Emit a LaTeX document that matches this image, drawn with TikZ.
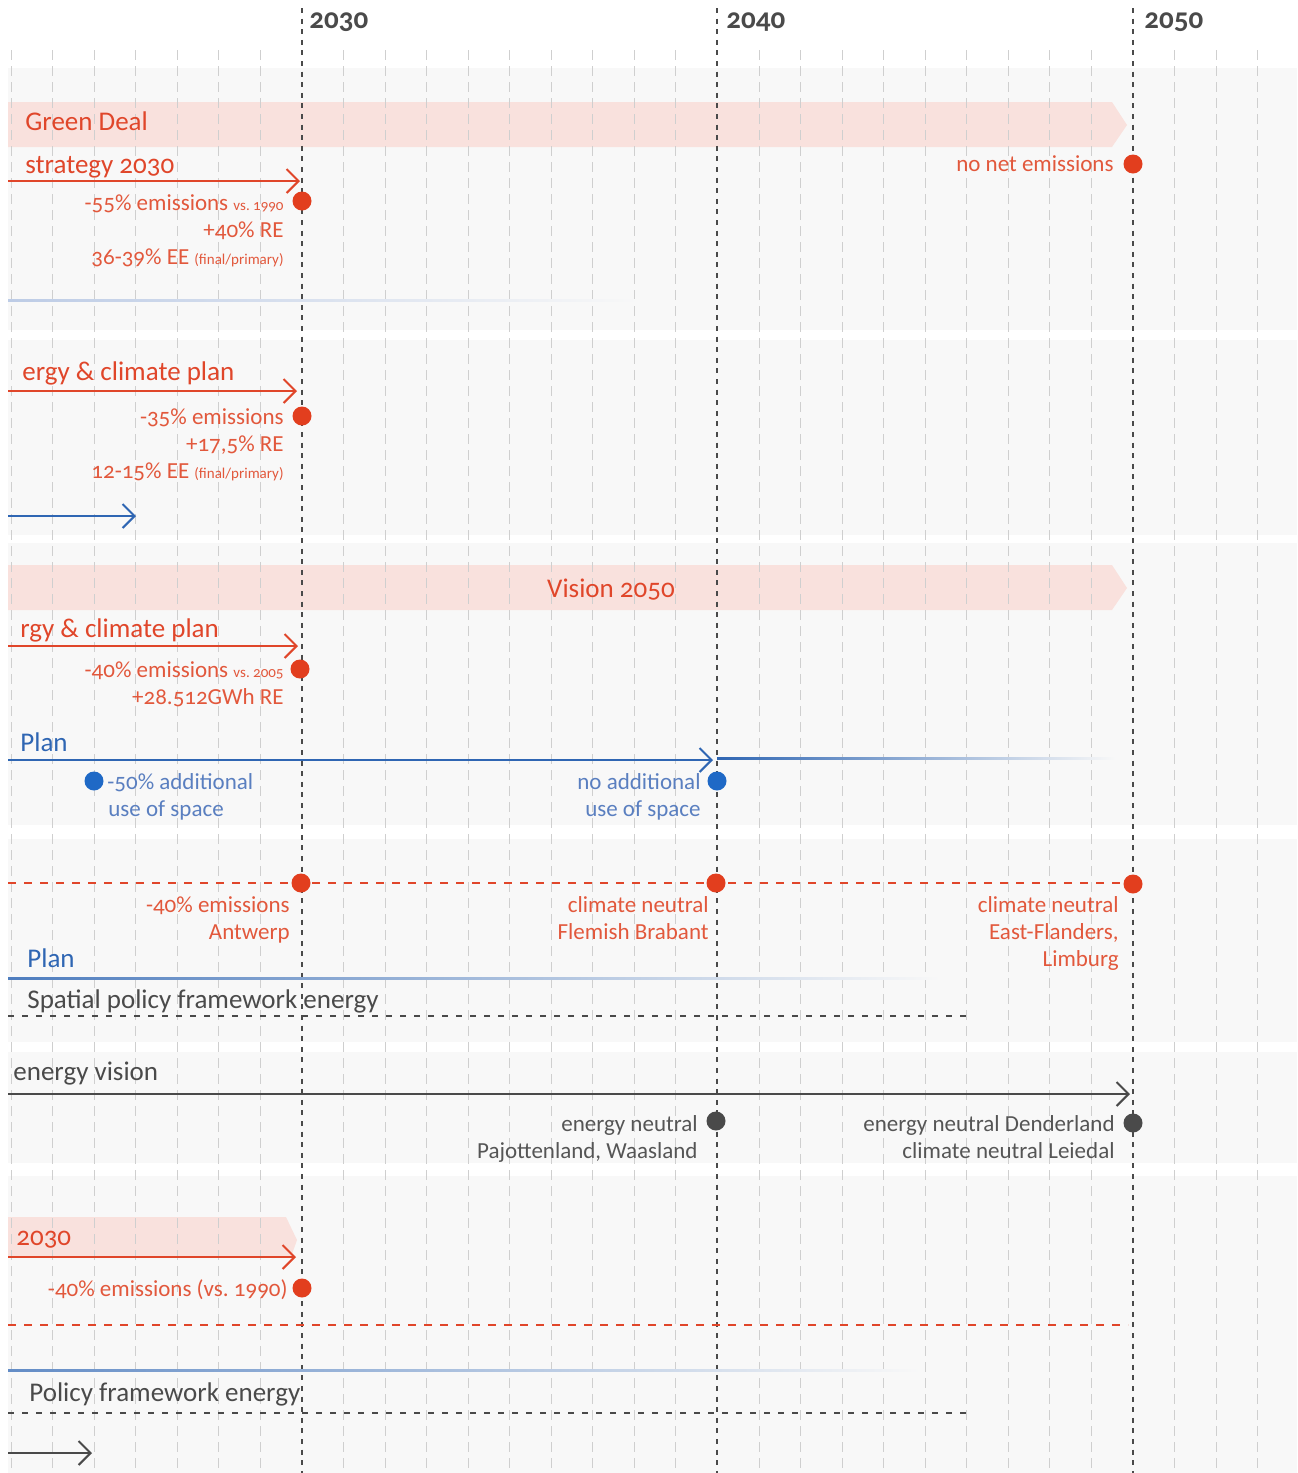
\documentclass[tikz,border=0pt]{standalone}
\usepackage{fontspec}
\setmainfont{Carlito}[Numbers=OldStyle]
\usetikzlibrary{arrows.meta}
\definecolor{cred}{HTML}{E0462A}
\definecolor{clred}{HTML}{E2583C}
\definecolor{cdot}{HTML}{E23E1E}
\definecolor{cblue}{HTML}{2F66B3}
\definecolor{cbdot}{HTML}{1F69C6}
\definecolor{cbtxt}{HTML}{5A7FC0}
\definecolor{cdark}{HTML}{4A4A4A}
\definecolor{cdtxt}{HTML}{555555}
\definecolor{cpink}{HTML}{F9E1DD}
\definecolor{cband}{HTML}{F8F8F8}
\definecolor{cminor}{HTML}{CFCFCF}
\tikzset{
  ttl/.style={font=\fontsize{13.5}{16}\selectfont, inner sep=0},
  lbl/.style={font=\fontsize{11.5}{13.5}\selectfont, inner sep=0},
  yr/.style={font=\fontsize{14.5}{16}\selectfont\bfseries, text=cdark, inner sep=0, anchor=base west},
  rdot/.style={circle, fill=cdot, inner sep=0, minimum size=9.5pt},
  bdot/.style={circle, fill=cbdot, inner sep=0, minimum size=9.5pt},
  ddot/.style={circle, fill=cdark, inner sep=0, minimum size=9.5pt},
  chev/.style={-{Straight Barb[length=6pt,width=12pt]}},
  redarrow/.style={chev, draw=cred, line width=1pt},
  bluearrow/.style={chev, draw=cblue, line width=1pt},
  darkarrow/.style={chev, draw=cdark, line width=1pt},
  minorline/.style={draw=cminor, line width=0.5pt, dash pattern=on 5pt off 3pt},
  majorline/.style={draw=cdark, line width=1.2pt, dash pattern=on 2.5pt off 2.8pt},
  reddash/.style={draw=cred, line width=1.2pt, dash pattern=on 4pt off 4pt},
  darkdash/.style={draw=cdark, line width=1pt, dash pattern=on 3pt off 4pt},
}
\begin{document}
\begin{tikzpicture}[x=0.5pt,y=-0.5pt]
\useasboundingbox (0,0) rectangle (1297,1473);
\fill[white] (0,0) rectangle (1297,1473);
% light grey bands
\foreach \a/\b in {68/330,340/535,543/825,839/1042,1052/1163,1176/1473}
  \fill[cband] (8,\a) rectangle (1297,\b);
% pink bands
\fill[cpink] (8,102) -- (1112,102) -- (1127,125) -- (1112,147) -- (8,147) -- cycle;
\fill[cpink] (8,565) -- (1112,565) -- (1127,588) -- (1112,610) -- (8,610) -- cycle;
\fill[cpink] (8,1217) -- (286,1217) -- (297,1240) -- (291,1257) -- (8,1257) -- cycle;
% minor year lines
\foreach \k in {-7,...,-1,1,2,...,9,11,12,...,19,21,22,23}
  \draw[minorline] ({302+41.55*\k},50) -- ({302+41.55*\k},1473);
% major year lines
\foreach \xx in {302,717,1133}
  \draw[majorline] (\xx,8) -- (\xx,1473);
\node[yr] (y30) at (309,28) {2030};
\node[yr] (y40) at (726,28) {2040};
\node[yr] (y50) at (1144,28) {2050};

% Green Deal
\node[ttl, text=cred, anchor=base west] (gd) at (25,130) {Green Deal};
\node[ttl, text=cred, anchor=base west] (st) at (25,173) {strategy 2030};
\coordinate (a1s) at (8,181); \coordinate (a1e) at (300,181);
\draw[redarrow] (a1s) -- (a1e);
\node[rdot] (d1) at (302,201) {};
\node[lbl, text=clred, anchor=base east] (t11) at (284,210) {-55\% emissions {\fontsize{7.5}{9}\selectfont vs.\ 1990}};
\node[lbl, text=clred, anchor=base east] (t12) at (284,237) {+40\% RE};
\node[lbl, text=clred, anchor=base east] (t13) at (284,264) {36-39\% EE {\fontsize{7.5}{9}\selectfont (final/primary)}};
\node[rdot] (d2) at (1133,164) {};
\node[lbl, text=clred, anchor=base east] (t14) at (1114,171) {no net emissions};
\shade[left color=cbtxt!40!white, right color=cband] (8,299) rectangle (640,301);

% energy & climate plan 1
\node[ttl, text=cred, anchor=base west] (ecp1) at (22,380) {ergy \& climate plan};
\coordinate (a2s) at (8,391); \coordinate (a2e) at (297,391);
\draw[redarrow] (a2s) -- (a2e);
\node[rdot] (d3) at (302,416) {};
\node[lbl, text=clred, anchor=base east] (t21) at (284,424) {-35\% emissions};
\node[lbl, text=clred, anchor=base east] (t22) at (284,451) {+17,5\% RE};
\node[lbl, text=clred, anchor=base east] (t23) at (284,478) {12-15\% EE {\fontsize{7.5}{9}\selectfont (final/primary)}};
\coordinate (a3s) at (8,516); \coordinate (a3e) at (136,516);
\draw[bluearrow] (a3s) -- (a3e);

% Vision 2050
\node[ttl, text=cred, anchor=base] (vis) at (611,597) {Vision 2050};
\node[ttl, text=cred, anchor=base west] (ecp2) at (20,637) {rgy \& climate plan};
\coordinate (a4s) at (8,646); \coordinate (a4e) at (298,646);
\draw[redarrow] (a4s) -- (a4e);
\node[rdot] (d4) at (300,669) {};
\node[lbl, text=clred, anchor=base east] (t31) at (284,677) {-40\% emissions {\fontsize{7.5}{9}\selectfont vs.\ 2005}};
\node[lbl, text=clred, anchor=base east] (t32) at (284,704) {+28.512GWh RE};

% Plan (blue)
\node[ttl, text=cblue, anchor=base west] (pl1) at (20,751) {Plan};
\coordinate (a5s) at (8,760); \coordinate (a5e) at (713,760);
\draw[bluearrow] (a5s) -- (a5e);
\shade[left color=cblue, right color=cband] (717,757.2) rectangle (1115,759.4);
\node[bdot] (d5) at (94,781) {};
\node[lbl, text=cbtxt, anchor=base west] (t41) at (107,789) {-50\% additional};
\node[lbl, text=cbtxt, anchor=base west] (t42) at (108,816) {use of space};
\node[bdot] (d6) at (717,781) {};
\node[lbl, text=cbtxt, anchor=base east] (t43) at (701,789) {no additional};
\node[lbl, text=cbtxt, anchor=base east] (t44) at (701,816) {use of space};

% red dashed with milestones
\coordinate (r1s) at (8,883); \coordinate (r1e) at (1133,883);
\draw[reddash] (r1s) -- (r1e);
\node[rdot] (d7) at (301,883) {};
\node[rdot] (d8) at (716,883) {};
\node[rdot] (d9) at (1133,884) {};
\node[lbl, text=clred, anchor=base east] (t51) at (290,912) {-40\% emissions};
\node[lbl, text=clred, anchor=base east] (t52) at (290,939) {Antwerp};
\node[lbl, text=clred, anchor=base east] (t53) at (709,912) {climate neutral};
\node[lbl, text=clred, anchor=base east] (t54) at (709,939) {Flemish Brabant};
\node[lbl, text=clred, anchor=base east] (t55) at (1119,912) {climate neutral};
\node[lbl, text=clred, anchor=base east] (t56) at (1119,939) {East-Flanders,};
\node[lbl, text=clred, anchor=base east] (t57) at (1119,966) {Limburg};

% Plan 2 + spatial policy
\node[ttl, text=cblue, anchor=base west] (pl2) at (27,967) {Plan};
\shade[left color=cblue!85!white, right color=cband] (8,977) rectangle (940,979.2);
\node[ttl, text=cdark, anchor=base west] (spf) at (27,1008) {Spatial policy framework energy};
\coordinate (k1s) at (8,1016); \coordinate (k1e) at (967,1016);
\draw[darkdash] (k1s) -- (k1e);

% energy vision
\node[ttl, text=cdark, anchor=base west] (ev) at (13,1080) {energy vision};
\coordinate (a6s) at (8,1094); \coordinate (a6e) at (1130,1094);
\draw[darkarrow] (a6s) -- (a6e);
\node[ddot] (d10) at (716,1121) {};
\node[ddot] (d11) at (1133,1123) {};
\node[lbl, text=cdtxt, anchor=base east] (t61) at (698,1131) {energy neutral};
\node[lbl, text=cdtxt, anchor=base east] (t62) at (698,1158) {Pajottenland, Waasland};
\node[lbl, text=cdtxt, anchor=base east] (t63) at (1115,1131) {energy neutral Denderland};
\node[lbl, text=cdtxt, anchor=base east] (t64) at (1115,1158) {climate neutral Leiedal};

% 2030
\node[ttl, text=cred, anchor=base west] (k30) at (16,1245) {2030};
\coordinate (a7s) at (8,1257); \coordinate (a7e) at (296,1257);
\draw[redarrow] (a7s) -- (a7e);
\node[rdot] (d12) at (302,1288) {};
\node[lbl, text=clred, anchor=base east] (t71) at (288,1296) {-40\% emissions (vs.\ 1990)};
\coordinate (r2s) at (8,1325); \coordinate (r2e) at (1128,1325);
\draw[reddash] (r2s) -- (r2e);
\shade[left color=cblue!75!white, right color=cband] (8,1369) rectangle (920,1371.2);

% Policy framework energy
\node[ttl, text=cdark, anchor=base west] (pfe) at (29,1401) {Policy framework energy};
\coordinate (k2s) at (8,1413); \coordinate (k2e) at (967,1413);
\draw[darkdash] (k2s) -- (k2e);
\coordinate (a8s) at (8,1453); \coordinate (a8e) at (92,1453);
\draw[darkarrow] (a8s) -- (a8e);
\end{tikzpicture}
\end{document}
